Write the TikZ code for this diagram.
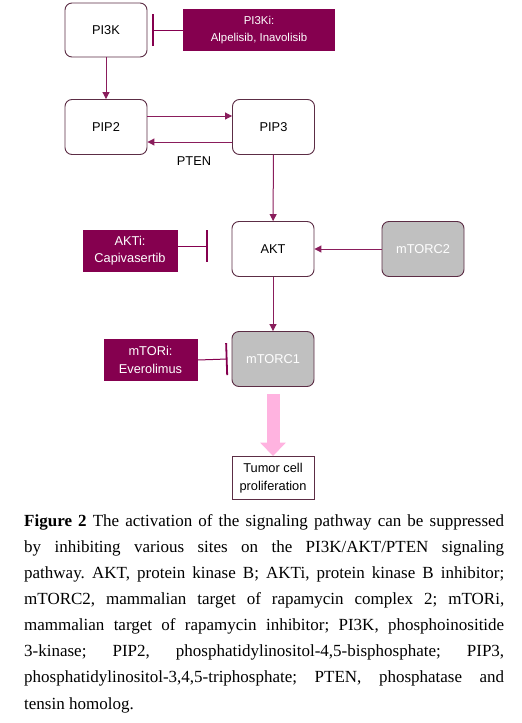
\documentclass[tikz,border=0pt]{standalone}
\usepackage{fontspec}
\setmainfont{Liberation Serif}
\newfontfamily\diagfont{Liberation Sans}
\usepackage{tikz}
\usetikzlibrary{arrows.meta}
\definecolor{drugred}{HTML}{85004F}
\definecolor{linkred}{HTML}{8A1D5C}
\definecolor{boxedge}{HTML}{5C2D45}
\definecolor{cplxgray}{HTML}{C0C0C0}
\definecolor{flowpink}{HTML}{FFB3E0}
\tikzset{
  molbox/.style={draw=boxedge, line width=0.9pt, rounded corners=7pt, fill=white,
    minimum width=82pt, minimum height=55pt, inner sep=0pt},
  cplxbox/.style={molbox, fill=cplxgray, text=white},
  drugbox/.style={fill=drugred, text=white, align=center, inner sep=0pt, minimum height=42pt},
  act/.style={draw=linkred, line width=1pt, -{Triangle[length=7pt,width=7pt]}},
  inhib/.style={draw=drugred, line width=1pt, -{Bar[width=32pt,line width=1.8pt]}}
}

\begin{document}
\begin{tikzpicture}[x=1pt,y=-1pt,font=\diagfont\fontsize{12.8}{17.5}\selectfont]
    \useasboundingbox (0,0) rectangle (522,723);
    \node[molbox, minimum height=54pt] (PI3K) at (106,30) {PI3K};
    \node[drugbox, minimum width=152pt, font=\diagfont\fontsize{11.4}{17}\selectfont] (PI3Ki) at (259,30) {PI3Ki:\\Alpelisib, Inavolisib};
    \node[molbox] (PIP2) at (106,127) {PIP2};
    \node[molbox] (PIP3) at (273.5,127) {PIP3};
    \node (PTEN) at (194,161) {PTEN};
    \node[molbox] (AKT) at (273,249) {AKT};
    \node[cplxbox] (mTORC2) at (423,249) {mTORC2};
    \node[drugbox, minimum width=95pt] (AKTi) at (130,250.5) {AKTi:\\Capivasertib};
    \node[cplxbox] (mTORC1) at (273,359) {mTORC1};
    \node[drugbox, minimum width=94pt] (mTORi) at (150.5,360) {mTORi:\\Everolimus};
    \node[draw=boxedge, line width=0.9pt, fill=white, minimum width=82pt, minimum height=43pt,
      inner sep=0pt, align=center] (tumor) at (273,478) {Tumor cell\\proliferation};
    \coordinate (akt-stop) at (208,246);

    \draw[act] (PI3K) -- (PIP2);
    \draw[act] ([yshift=11pt]PIP2.east) -- ([yshift=11pt]PIP3.west);
    \draw[act] ([yshift=-15pt]PIP3.west) -- ([yshift=-15pt]PIP2.east);
    \draw[act] (PIP3) -- (AKT);
    \draw[act] (mTORC2) -- (AKT);
    \draw[act] (AKT) -- (mTORC1);
    \draw[inhib] (PI3Ki.west) -- ([xshift=5pt]PI3K.east);
    \draw[inhib] (AKTi.east |- akt-stop) -- (akt-stop);
    \draw[inhib] (mTORi.east) -- ([xshift=-4pt]mTORC1.west);
    \draw[flowpink, line width=13pt, -{Triangle[width=25pt,length=13.5pt]}] ([yshift=-7pt]mTORC1.south) -- (tumor.north);

    \node[anchor=base west, inner sep=0pt, text width=480pt, align=justify,
      font=\rmfamily\frenchspacing\fontsize{17}{26.15}\selectfont] (caption) at (24,526) {\textbf{Figure 2} The activation of the signaling pathway can be suppressed\linebreak
      by inhibiting various sites on the PI3K/AKT/PTEN signaling\linebreak
      pathway. AKT, protein kinase B; AKTi, protein kinase B inhibitor;\linebreak
      mTORC2, mammalian target of rapamycin complex 2; mTORi,\linebreak
      mammalian target of rapamycin inhibitor; PI3K, phosphoinositide\linebreak
      3-kinase; PIP2, phosphatidylinositol-4,5-bisphosphate; PIP3,\linebreak
      phosphatidylinositol-3,4,5-triphosphate; PTEN, phosphatase and\linebreak
      tensin homolog.};
\end{tikzpicture}
\end{document}
